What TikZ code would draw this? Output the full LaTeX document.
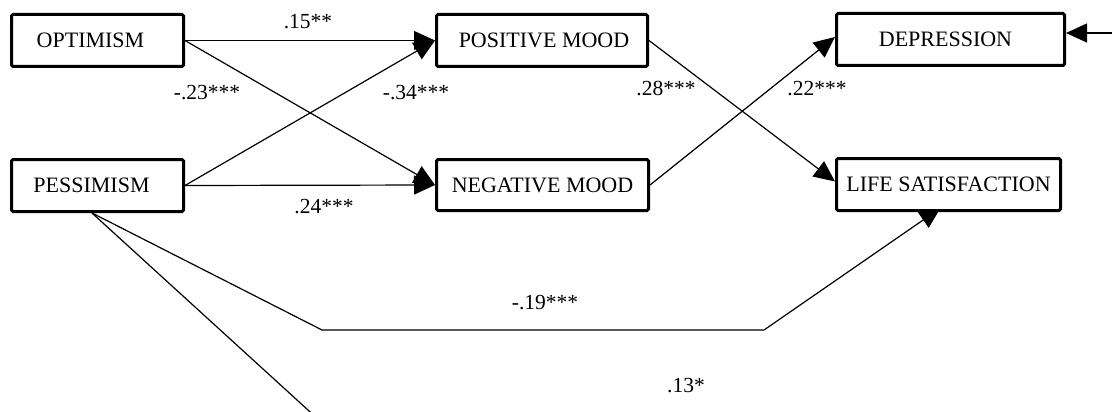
\documentclass[tikz,border=0pt]{standalone}
\usepackage{fontspec}
\setmainfont{Liberation Serif}
\usetikzlibrary{arrows.meta,calc}
\pgfdeclarelayer{edges}
\pgfsetlayers{edges,main}
\begin{document}
\begin{tikzpicture}[x=1pt,y=-1pt,
  box/.style={draw, line width=3pt, rounded corners=1.5pt, fill=white, inner sep=0pt,
    font=\fontsize{22}{26}\selectfont},
  link/.style={line width=1.2pt, -{Triangle[length=21pt,width=19pt]}},
  plain/.style={line width=1.2pt},
  coef/.style={font=\fontsize{21.5}{26}\selectfont, inner sep=0pt}]
\clip (0,0) rectangle (1112,412);
\node[box, minimum width=172pt, minimum height=52pt] (opt) at (97.5,40.5) {OPTIMISM\hspace*{14pt}};
\node[box, minimum width=172pt, minimum height=52pt] (pess) at (97.5,185.5) {PESSIMISM\hspace*{12pt}};
\node[box, minimum width=211pt, minimum height=52pt] (pos) at (542,40.5) {\hspace*{4pt}POSITIVE MOOD};
\node[box, minimum width=212pt, minimum height=51pt] (neg) at (542.5,185) {NEGATIVE MOOD};
\node[box, minimum width=228pt, minimum height=52pt] (dep) at (950.5,39.5) {DEPRESSION\hspace*{10pt}};
\node[box, minimum width=224pt, minimum height=52pt] (life) at (948.5,184.5) {LIFE SATISFACTION};
\coordinate (ext) at (1125,33);
\coordinate (bendA) at (322,330);
\coordinate (bendB) at (764,330);
\coordinate (off) at (331,431);
\begin{pgfonlayer}{edges}
\fill[white] (0,0) rectangle (1112,412);
\draw[link] (opt.east) -- (pos.west);
\draw[link] (opt.east) -- (neg.west);
\draw[link] (pess.east) -- (pos.west);
\draw[link] (pess.east) -- (neg.west);
\draw[link] (pos.east) -- ([yshift=3pt]life.west);
\draw[link] (neg.east) -- ([yshift=2.5pt]dep.west);
\draw[link] (ext) -- (ext -| dep.east);
\draw[link] ([xshift=-5.5pt]pess.south) -- (bendA) -- (bendB) -- ([xshift=-8pt,yshift=4pt]life.south);
\draw[plain] ([xshift=-5.5pt]pess.south) -- (off);
\end{pgfonlayer}
\node[coef] (c1) at (308,22) {.15**};
\node[coef] (c2) at (207,93) {-.23***};
\node[coef] (c3) at (416,93) {-.34***};
\node[coef] (c4) at (324,207) {.24***};
\node[coef] (c5) at (666,89) {.28***};
\node[coef] (c6) at (817,89) {.22***};
\node[coef] (c7) at (545,303) {-.19***};
\node[coef] (c8) at (686,386) {.13*};
\end{tikzpicture}
\end{document}
